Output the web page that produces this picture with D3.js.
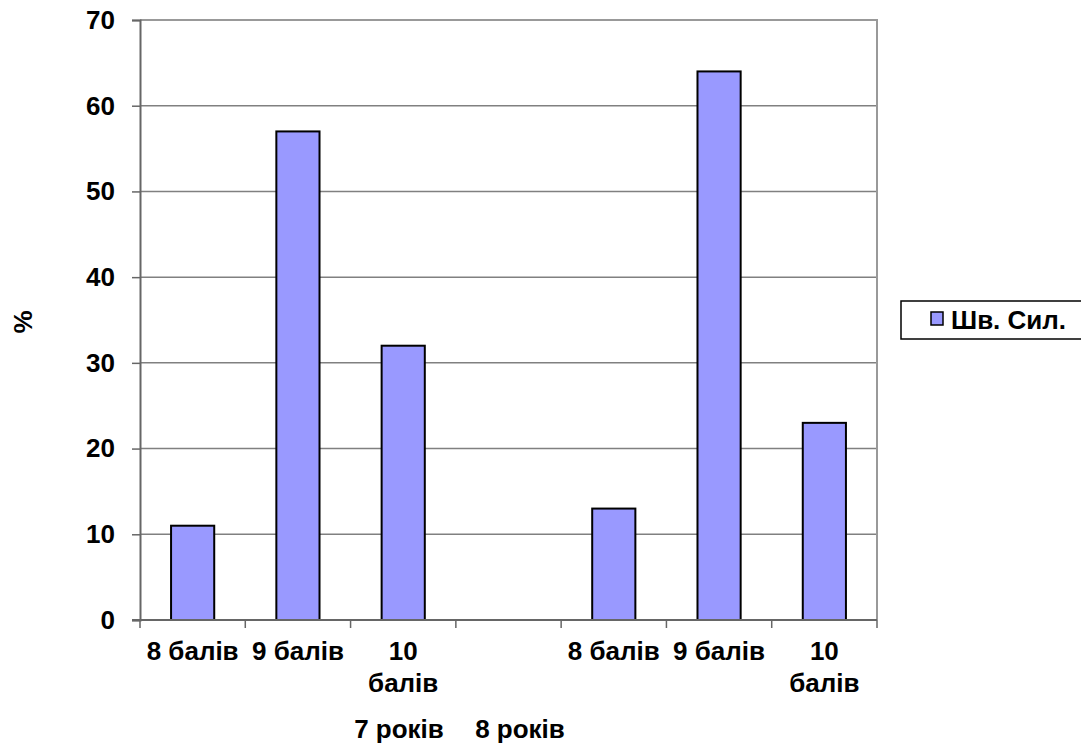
<!DOCTYPE html>
<html>
<head>
<meta charset="utf-8">
<script src="https://cdn.jsdelivr.net/npm/d3@7"></script>
<style>
  html, body { margin: 0; padding: 0; background: #fff; }
  svg { display: block; }
  text { font-family: "Liberation Sans", Arial, sans-serif; font-weight: bold; fill: #000; }
</style>
</head>
<body>
<svg id="chart" width="1081" height="747"></svg>
<script>
// Category labels along the x axis (the blank slot separates the two age groups)
const categories = ["8 балів", "9 балів", "10 балів", "", "8 балів", "9 балів", "10 балів"];
// Share of pupils, %
const values = [11, 57, 32, null, 13, 64, 23];
// Age group captions under the axis
const groupLabels = ["7 років", "8 років"];
const groupCenters = [399, 520];
// Y axis ticks
const yTicks = [0, 10, 20, 30, 40, 50, 60, 70];
const seriesName = "Шв. Сил.";
const yTitle = "%";

const svg = d3.select("#chart");
const plot = { left: 140, right: 877, top: 20, bottom: 620 };
const barColor = "#9999FF";
const gridColor = "#808080";
const fontSize = 26;

const x = d3.scaleBand()
  .domain(d3.range(categories.length))
  .range([plot.left, plot.right])
  .padding(0);

const y = d3.scaleLinear()
  .domain([0, 70])
  .range([plot.bottom, plot.top]);

// horizontal gridlines
svg.append("g")
  .selectAll("line")
  .data(yTicks.filter(t => t > 0))
  .join("line")
  .attr("x1", plot.left).attr("x2", plot.right)
  .attr("y1", d => y(d)).attr("y2", d => y(d))
  .attr("stroke", gridColor).attr("stroke-width", 1.5);

// plot border (top / right)
svg.append("path")
  .attr("d", `M${plot.left},${plot.top}H${plot.right}V${plot.bottom}`)
  .attr("fill", "none").attr("stroke", "#999").attr("stroke-width", 2);

// bars
const bw = x.bandwidth() * 0.41;
svg.append("g")
  .selectAll("rect")
  .data(values.map((v, i) => ({ v, i })).filter(d => d.v != null))
  .join("rect")
  .attr("x", d => x(d.i) + (x.bandwidth() - bw) / 2)
  .attr("width", bw)
  .attr("y", d => y(d.v))
  .attr("height", d => y(0) - y(d.v))
  .attr("fill", barColor)
  .attr("stroke", "#000")
  .attr("stroke-width", 2);

// y axis
const yAxis = svg.append("g")
  .attr("transform", `translate(${plot.left},0)`)
  .call(d3.axisLeft(y).tickValues(yTicks).tickSize(8).tickPadding(17).tickFormat(d3.format("d")));
yAxis.select(".domain").attr("stroke", "#666").attr("stroke-width", 2);
yAxis.selectAll(".tick line").attr("stroke", "#666").attr("stroke-width", 1.5);
yAxis.selectAll(".tick text")
  .attr("font-size", fontSize)
  .attr("font-family", "Liberation Sans, Arial, sans-serif")
  .attr("font-weight", "bold")
  .attr("fill", "#000");

// x axis with ticks between categories
const xAxisG = svg.append("g");
xAxisG.append("line")
  .attr("x1", plot.left - 8).attr("x2", plot.right)
  .attr("y1", plot.bottom).attr("y2", plot.bottom)
  .attr("stroke", "#666").attr("stroke-width", 2);
const boundaries = d3.range(categories.length + 1).map(i =>
  i < categories.length ? x(i) : x(categories.length - 1) + x.bandwidth());
xAxisG.selectAll("line.tk")
  .data(boundaries)
  .join("line")
  .attr("class", "tk")
  .attr("x1", d => d).attr("x2", d => d)
  .attr("y1", plot.bottom).attr("y2", plot.bottom + 8)
  .attr("stroke", "#666").attr("stroke-width", 1.5);

// category labels, wrapped when wider than the slot allows
const lineH = 32;
categories.forEach((c, i) => {
  if (!c) return;
  const cx = x(i) + x.bandwidth() / 2;
  const t = xAxisG.append("text")
    .attr("x", cx).attr("y", 660)
    .attr("text-anchor", "middle")
    .attr("font-size", fontSize)
    .text(c);
  if (t.node().getComputedTextLength() > x.bandwidth() * 0.92) {
    const words = c.split(" ");
    t.text(null);
    words.forEach((w, k) => {
      t.append("tspan").attr("x", cx).attr("y", 660 + k * lineH).text(w);
    });
  }
});

// age group captions
svg.append("g")
  .selectAll("text")
  .data(groupLabels)
  .join("text")
  .attr("x", (d, i) => groupCenters[i])
  .attr("y", 738)
  .attr("text-anchor", "middle")
  .attr("font-size", fontSize)
  .text(d => d);

// y axis title
svg.append("text")
  .attr("transform", "translate(32,322) rotate(-90)")
  .attr("text-anchor", "middle")
  .attr("font-size", fontSize)
  .text(yTitle);

// legend
const lg = svg.append("g");
lg.append("rect")
  .attr("x", 901).attr("y", 301)
  .attr("width", 200).attr("height", 38)
  .attr("fill", "#fff").attr("stroke", "#000").attr("stroke-width", 1.5);
lg.append("rect")
  .attr("x", 931).attr("y", 312)
  .attr("width", 12).attr("height", 13)
  .attr("fill", barColor).attr("stroke", "#000").attr("stroke-width", 1.5);
lg.append("text")
  .attr("x", 951).attr("y", 329)
  .attr("font-size", fontSize)
  .text(seriesName);
</script>
</body>
</html>
